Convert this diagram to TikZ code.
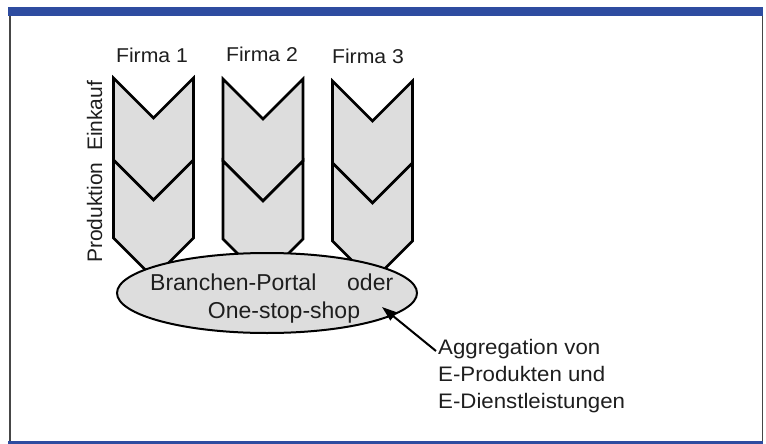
\documentclass[tikz,border=0pt]{standalone}
\usepackage{fontspec}
\setmainfont{Liberation Sans}
\newfontfamily\widefont[FakeStretch=1.06]{Liberation Sans}
\usetikzlibrary{shapes.geometric,arrows.meta}
\definecolor{barblue}{RGB}{46,76,160}
\definecolor{chevfill}{RGB}{221,221,221}
\definecolor{framegray}{RGB}{70,70,70}
\definecolor{ink}{RGB}{30,30,30}
\tikzset{
  chev/.style={draw=black, fill=chevfill, line width=2.6pt, line join=miter},
  lbl/.style={inner sep=0pt, anchor=base, text=ink, font=\widefont\fontsize{20}{24}\selectfont},
  big/.style={inner sep=0pt, anchor=base west, text=ink, font=\fontsize{23}{28}\selectfont},
  note/.style={inner sep=0pt, anchor=base west, text=ink, font=\widefont\fontsize{21}{27}\selectfont},
}
\newcommand{\columnchev}[2]{%
  \draw[chev] (#1-40,#2) -- (#1,#2+40) -- (#1+40,#2) -- (#1+40,#2+82) -- (#1,#2+122) -- (#1-40,#2+82) -- cycle;
  \draw[chev] (#1-40,#2+82) -- (#1,#2+122) -- (#1+40,#2+82) -- (#1+40,#2+160) -- (#1,#2+200) -- (#1-40,#2+160) -- cycle;
}
\begin{document}
\begin{tikzpicture}[x=1pt,y=-1pt]
\useasboundingbox (0,0) rectangle (766,444);
% frame
\fill[barblue] (8,7) rectangle (763,16);
\fill[barblue] (8,441) rectangle (763,444);
\draw[framegray, line width=1.5pt] (10,16) -- (10,441);
\draw[framegray, line width=1pt] (762,16) -- (762,441);
% chevrons
\columnchev{153.5}{78}
\columnchev{263}{79}
\columnchev{372.5}{81}
% portal ellipse
\node[ellipse, draw=black, fill=chevfill, line width=2pt, minimum width=300pt, minimum height=80pt, inner sep=0pt] (portal) at (267,293) {};
\node[big] (bp) at (150,290) {Branchen-Portal};
\node[big] (oder) at (347,290) {oder};
\node[big, anchor=base] (oss) at (284,318) {One-stop-shop};
% firm labels
\node[lbl] (f1) at (152,63) {Firma 1};
\node[lbl] (f2) at (262,62) {Firma 2};
\node[lbl] (f3) at (368,64) {Firma 3};
% side label
\node[inner sep=0pt, anchor=base west, rotate=90, text=ink, font=\fontsize{21}{25}\selectfont] (side) at (102,263) {Produktion\hspace{0.55em}Einkauf};
% aggregation note
\node[note] (a1) at (438,354) {Aggregation von};
\node[note] (a2) at (438,381) {E-Produkten und};
\node[note] (a3) at (438,408) {E-Dienstleistungen};
\coordinate (tip) at (382,307);
\coordinate (astart) at (436,351);
\draw[line width=2pt, -{Triangle[length=15pt,width=10pt]}] (astart) -- (tip);
\end{tikzpicture}
\end{document}
